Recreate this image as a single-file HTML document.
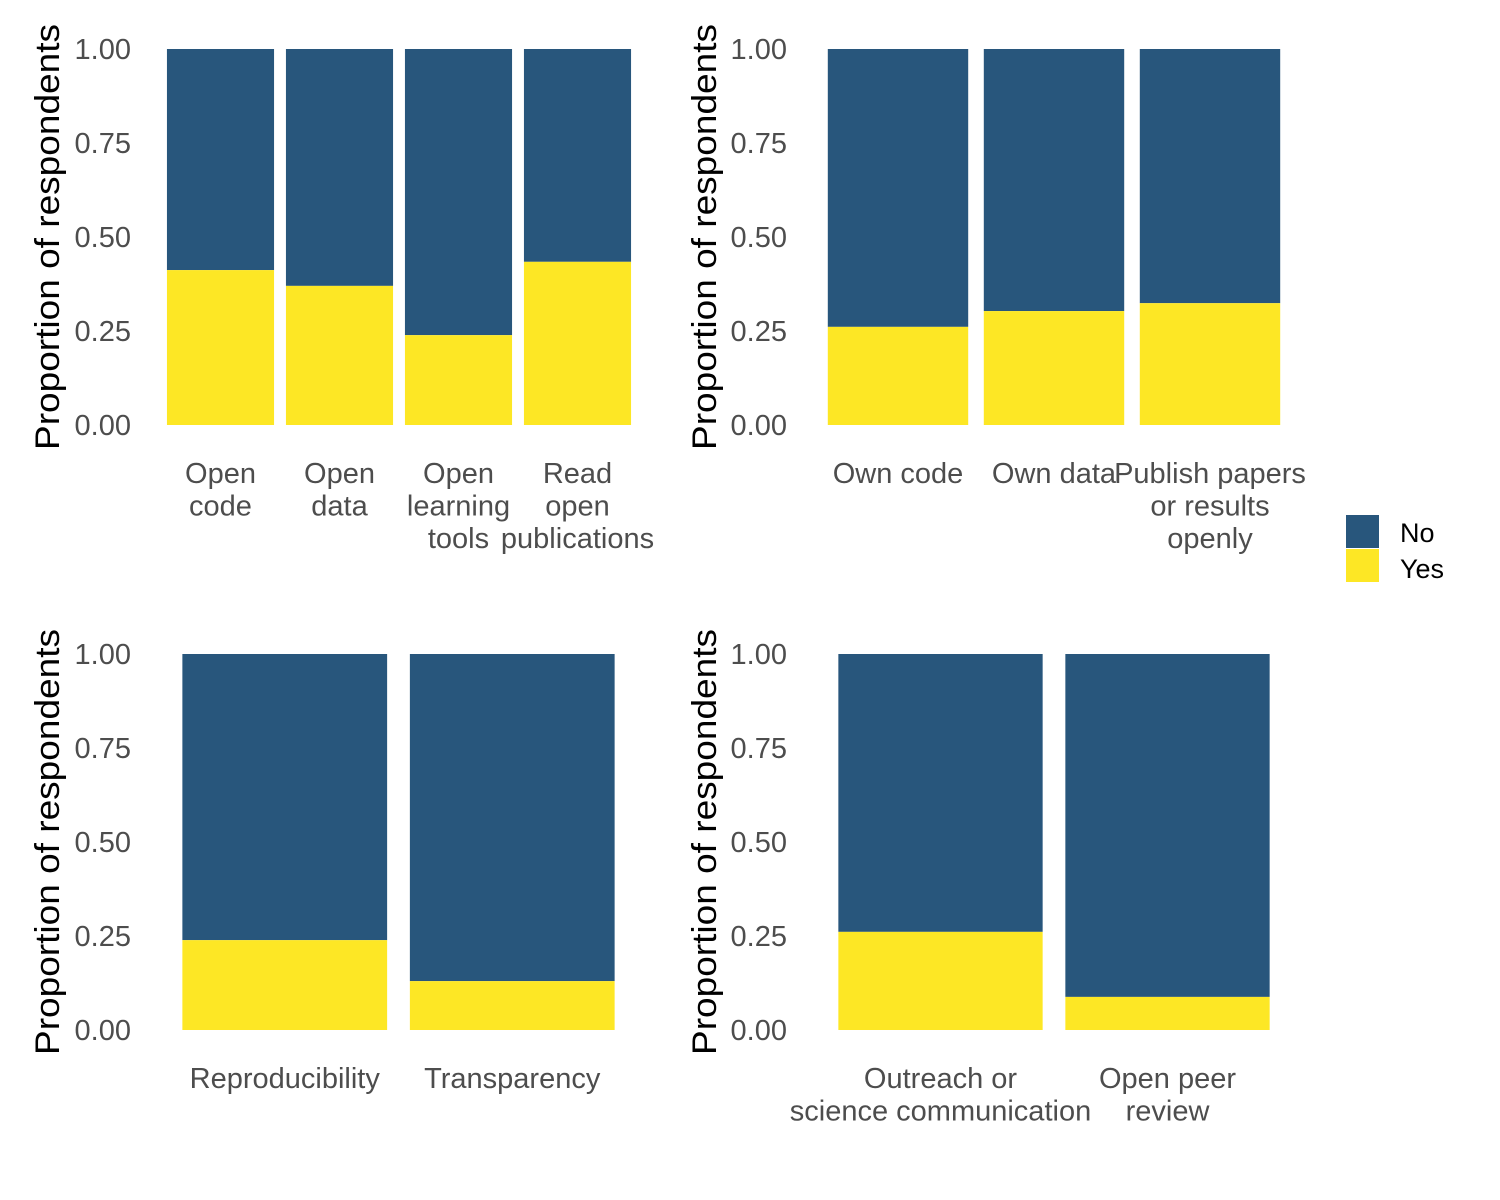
<!DOCTYPE html>
<html><head><meta charset="utf-8"><style>
body{margin:0;background:#fff;}
svg{display:block;font-family:"Liberation Sans",Arial,sans-serif;}
.tick{fill:#4d4d4d;font-size:29px;}
.ytitle{fill:#000;font-size:34px;}
</style></head><body>
<svg id="chart" width="1500" height="1200">
<g id="legend">
<rect x="1346" y="515" width="33" height="33" fill="#28567c"/>
<text x="1400" y="542" font-size="27">No</text>
<rect x="1346" y="549" width="33" height="33" fill="#fde725"/>
<text x="1400" y="578" font-size="27">Yes</text>
</g>
</svg>
<script>
const p1Categories=[["Open","code"],["Open","data"],["Open","learning","tools"],["Read","open","publications"]];
const p1Yes=[0.412,0.370,0.239,0.434];
const p2Categories=[["Own code"],["Own data"],["Publish papers","or results","openly"]];
const p2Yes=[0.261,0.303,0.324];
const p3Categories=[["Reproducibility"],["Transparency"]];
const p3Yes=[0.239,0.130];
const p4Categories=[["Outreach or","science communication"],["Open peer","review"]];
const p4Yes=[0.261,0.088];
const yTicks=["0.00","0.25","0.50","0.75","1.00"];
const NS="http://www.w3.org/2000/svg";
const svg=document.getElementById('chart');
function mk(t,a,parent){const e=document.createElementNS(NS,t);for(const k in a)e.setAttribute(k,a[k]);parent.appendChild(e);return e;}
const panels=[
 {cats:p1Categories,yes:p1Yes,x0:161,x1:637,yTop:49,yBot:425,tickX:131,titleX:59,name:'panel-1'},
 {cats:p2Categories,yes:p2Yes,x0:820,x1:1288,yTop:49,yBot:425,tickX:787,titleX:716,name:'panel-2'},
 {cats:p3Categories,yes:p3Yes,x0:171,x1:626,yTop:654,yBot:1030,tickX:131,titleX:59,name:'panel-3'},
 {cats:p4Categories,yes:p4Yes,x0:827,x1:1281,yTop:654,yBot:1030,tickX:787,titleX:716,name:'panel-4'}
];
panels.forEach(p=>{
 const g=mk('g',{},svg);
 
 
 const y=v=>p.yBot-(p.yBot-p.yTop)*v;
 const n=p.cats.length, step=(p.x1-p.x0)/n, bw=step*0.9;
 yTicks.forEach(t=>{
  const tx=mk('text',{x:p.tickX,y:y(parseFloat(t))+10,'text-anchor':'end',class:'tick'},g);
  tx.textContent=t;
  
  
 });
 const cy=(p.yTop+p.yBot)/2;
 const tt=mk('text',{x:p.titleX,y:cy,'text-anchor':'middle',class:'ytitle',textLength:426,lengthAdjust:'spacingAndGlyphs',transform:`rotate(-90 ${p.titleX} ${cy})`},g);
 tt.textContent='Proportion of respondents';
 
 
 p.cats.forEach((c,i)=>{
  const cx=p.x0+step*(i+0.5), bx=cx-bw/2;
  const no=mk('rect',{x:bx,y:y(1),width:bw,height:y(p.yes[i])-y(1),fill:'#28567c'},g);
  
  
  const ys=mk('rect',{x:bx,y:y(p.yes[i]),width:bw,height:y(0)-y(p.yes[i]),fill:'#fde725'},g);
  
  
  const lt=mk('text',{'text-anchor':'middle',class:'tick'},g);
  
  
  c.forEach((line,j)=>{const ts=mk('tspan',{x:cx,y:p.yBot+58+j*32.5},lt);ts.textContent=line;});
 });
});
</script>
</body></html>
